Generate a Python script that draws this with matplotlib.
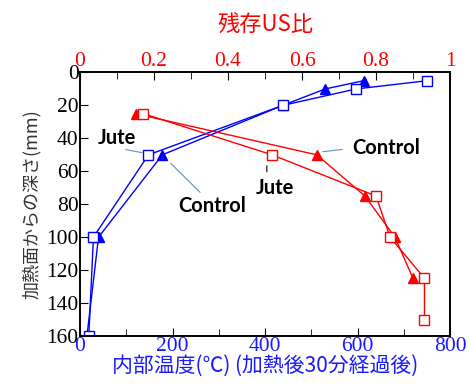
import matplotlib
matplotlib.use('Agg')
import matplotlib.pyplot as plt

# depth from heated face (mm)
depth_temp_jute = [5, 10, 20, 50, 100, 160]
depth_temp_ctrl = [5, 10, 20, 50, 100, 160]
# internal temperature 30 min after heating (deg C)
temp_jute = [750, 597, 438, 148, 29, 19]
temp_ctrl = [613, 530, 438, 178, 40, 15]

# residual ultrasonic ratio vs depth
depth_us_jute = [25, 50, 75, 100, 125, 150]
depth_us_ctrl = [25, 50, 75, 100, 125]
us_jute = [0.171, 0.519, 0.80, 0.838, 0.931, 0.931]
us_ctrl = [0.150, 0.640, 0.770, 0.851, 0.900]

serif = 'Liberation Serif'
jp = ['Noto Sans CJK JP', 'DejaVu Sans']

fig = plt.figure(figsize=(4.69, 3.85), dpi=100)
ax = fig.add_axes([0.1706, 0.1273, 0.7889, 0.6844])

# temperature curves (bottom axis)
ax.plot(temp_ctrl, depth_temp_ctrl, '-^', color='#0000ff', lw=1,
        ms=7, mfc='#0000ff', mec='#0000ff')
ax.plot(temp_jute, depth_temp_jute, '-s', color='#0000ff', lw=1,
        ms=7, mfc='white', mec='#0000ff')
ax.set_xlim(0, 800)
ax.set_ylim(160, 0)
ax.set_xticks([0, 200, 400, 600, 800])
ax.set_xticks([100, 300, 500, 700], minor=True)
ax.set_yticks(range(0, 161, 20))
ax.tick_params(axis='x', which='both', direction='in', colors='black',
               labelcolor='#1a1aff', labelsize=15.5, pad=1, length=6)
ax.tick_params(axis='x', which='minor', length=5)
ax.tick_params(axis='y', direction='in', labelsize=15.5, pad=1, length=6)
for lab in ax.get_xticklabels() + ax.get_yticklabels():
    lab.set_family(serif)

# residual US ratio curves (top axis)
ax2 = ax.twiny()
ax2.plot(us_ctrl, depth_us_ctrl, '-^', color='red', lw=1,
         ms=7, mfc='red', mec='red')
ax2.plot(us_jute, depth_us_jute, '-s', color='red', lw=1,
         ms=7, mfc='white', mec='red')
ax2.set_xlim(0, 1)
ax2.set_xticks([0, 0.2, 0.4, 0.6, 0.8, 1])
ax2.set_xticklabels(['0', '0.2', '0.4', '0.6', '0.8', '1'])
ax2.set_xticks([0.1, 0.3, 0.5, 0.7, 0.9], minor=True)
ax2.tick_params(axis='x', which='both', direction='in', labelcolor='red',
                labelsize=15.5, pad=1, length=6)
ax2.tick_params(axis='x', which='minor', length=5)
for lab in ax2.get_xticklabels():
    lab.set_family(serif)

for a in (ax, ax2):
    for s in a.spines.values():
        s.set_linewidth(1.2)

ax.set_xlabel('内部温度(℃) (加熱後30分経過後)', color='#1a1aff',
              fontsize=15, family=jp, labelpad=-1)
ax.set_ylabel('加熱面からの深さ(mm)', fontsize=13, family=jp, labelpad=4,
              color='#333333')
ax2.set_xlabel('残存US比', color='red', fontsize=16, family=jp, labelpad=15)

# labels with leader lines
lab_font = dict(family='Lato', weight='bold', fontsize=14.5, color='black',
                ha='center', va='center')
lead_blue = dict(arrowstyle='-', color='#5b8fd0', lw=0.8)
lead_black = dict(arrowstyle='-', color='black', lw=0.8)

ax.text(80, 40, 'Jute', **lab_font)
ax.annotate('', xy=(140, 49), xytext=(93, 46.5), arrowprops=lead_blue)
ax.text(285, 81, 'Control', **lab_font)
ax.annotate('', xy=(192, 54), xytext=(264, 74), arrowprops=lead_blue)
ax.text(422, 70, 'Jute', **lab_font)
ax.annotate('', xy=(404, 55), xytext=(404, 62), arrowprops=lead_black)
ax.text(662, 46, 'Control', **lab_font)
ax.annotate('', xy=(519, 48.3), xytext=(573, 46.5), arrowprops=lead_blue)

fig.savefig('out.png', dpi=100)
